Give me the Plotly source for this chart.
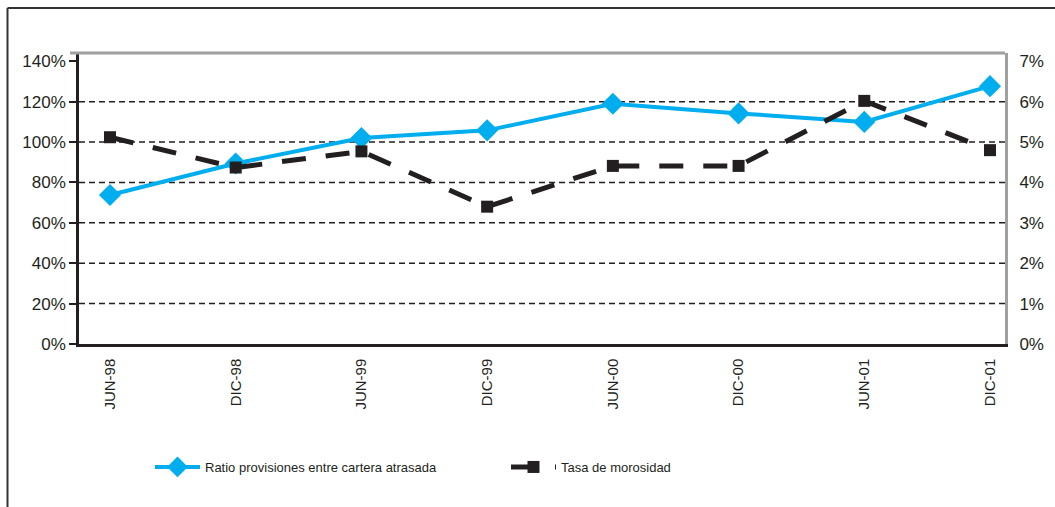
import plotly.graph_objects as go

categories = ["JUN-98", "DIC-98", "JUN-99", "DIC-99", "JUN-00", "DIC-00", "JUN-01", "DIC-01"]
ratio_provisiones = [73.8, 89.4, 102.0, 105.8, 119.0, 114.2, 110.0, 127.7]   # % left axis
tasa_morosidad = [5.12, 4.37, 4.77, 3.40, 4.41, 4.41, 6.02, 4.80]             # % right axis
left_ticks = [0, 20, 40, 60, 80, 100, 120, 140]
right_ticks = [0, 1, 2, 3, 4, 5, 6, 7]

BLUE = "#00AEEF"
BLACK = "#231F20"
GRAY = "#A0A0A0"
FONT = "Liberation Sans, Arial, sans-serif"

L, R, T, B = 79, 50, 53, 163
W, H = 1055, 507
pw, ph = W - L - R, H - T - B

def px_x(p):
    return (p - L) / pw

def px_y(p):
    return (H - B - p) / ph

fig = go.Figure()
fig.add_trace(go.Scatter(
    x=categories, y=ratio_provisiones, name="Ratio provisiones entre cartera atrasada",
    mode="lines+markers", line=dict(color=BLUE, width=4),
    marker=dict(symbol="diamond", size=17, color=BLUE), yaxis="y",
))
fig.add_trace(go.Scatter(
    x=categories, y=tasa_morosidad, name="Tasa de morosidad",
    mode="lines+markers", line=dict(color=BLACK, width=5, dash="24px,20px"),
    marker=dict(symbol="square", size=12, color=BLACK), yaxis="y2",
))

shapes = []
# dashed horizontal gridlines (interior ticks only)
for v in left_ticks[1:-1]:
    shapes.append(dict(type="line", xref="paper", yref="y", x0=0, x1=1, y0=v, y1=v,
                       line=dict(color=BLACK, width=1.5, dash="6px,4px"), layer="below"))
# gray top frame line
shapes.append(dict(type="line", xref="paper", yref="paper", x0=px_x(70), x1=1, y0=1, y1=1,
                   line=dict(color=GRAY, width=3)))
# outer chart border (left and top)
shapes.append(dict(type="line", xref="paper", yref="paper", x0=px_x(7.5), x1=px_x(7.5),
                   y0=px_y(8), y1=px_y(H + 5), line=dict(color="#333333", width=2)))
shapes.append(dict(type="line", xref="paper", yref="paper", x0=px_x(7.5), x1=px_x(W + 5),
                   y0=px_y(8), y1=px_y(8), line=dict(color="#333333", width=2)))

ymax = 140 * (H - B - T) / (344 - 61.3)

fig.update_layout(
    width=W, height=H,
    margin=dict(l=L, r=R, t=T, b=B, pad=0),
    paper_bgcolor="white", plot_bgcolor="white",
    font=dict(family=FONT, color=BLACK),
    showlegend=True,
    legend=dict(orientation="h", x=px_x(150), xanchor="left", y=px_y(467), yanchor="middle",
                font=dict(family=FONT, size=13, color=BLACK), itemwidth=45,
                entrywidth=296, entrywidthmode="pixels",
                bgcolor="rgba(0,0,0,0)"),
    xaxis=dict(type="category", range=[-31 / 125.7, 7 + 15 / 125.7],
               showgrid=False, zeroline=False, showline=True, linecolor=BLACK, linewidth=2.5,
               ticks="", tickangle=-90, tickfont=dict(size=15, family=FONT, color=BLACK),
               ticklabelstandoff=6),
    yaxis=dict(range=[0, ymax], tickvals=left_ticks, ticktext=[f"{v}%" for v in left_ticks],
               showgrid=False, zeroline=False, showline=True, linecolor=BLACK, linewidth=2.5,
               ticks="outside", ticklen=7, tickwidth=2, tickcolor=BLACK,
               tickfont=dict(size=17, family=FONT, color=BLACK)),
    yaxis2=dict(range=[0, 7 * ymax / 140], tickvals=right_ticks,
                ticktext=[f"{v}%" for v in right_ticks], overlaying="y", side="right",
                showgrid=False, zeroline=False, showline=True, linecolor=GRAY, linewidth=3,
                ticks="", ticklabelstandoff=8,
                tickfont=dict(size=17, family=FONT, color=BLACK)),
    shapes=shapes,
)

fig.write_html("out.html", config={"displayModeBar": False},
               post_script="document.body.style.margin='0';")
